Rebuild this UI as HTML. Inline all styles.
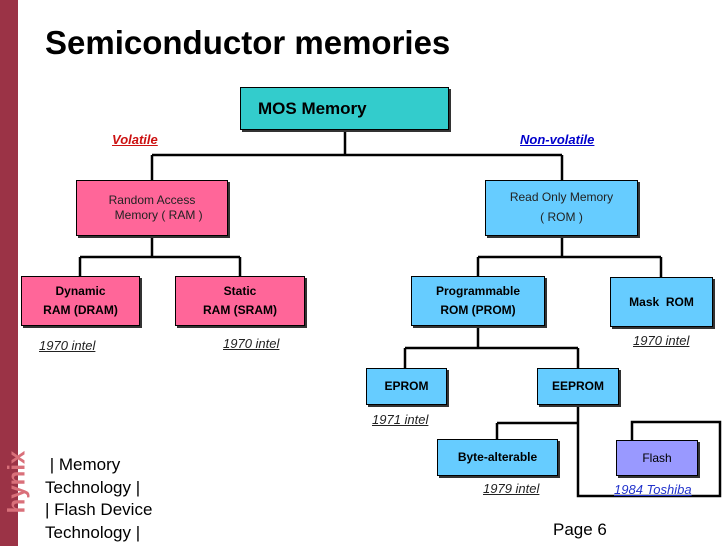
<!DOCTYPE html>
<html><head><style>
body{margin:0;width:728px;height:546px;background:#fff;position:relative;overflow:hidden;font-family:"Liberation Sans",sans-serif}
.b{position:absolute;border:1.5px solid #000;box-shadow:2px 2px 0 #333;box-sizing:border-box;display:flex;align-items:center;justify-content:center;text-align:center;color:#000}
.p{background:#ff6699}.c{background:#66ccff}
.bold{font-weight:bold;font-size:12px;line-height:19px}
.t{position:absolute;white-space:nowrap}
.yr{position:absolute;font-style:italic;text-decoration:underline;font-size:13px;color:#222}
</style></head><body>
<div style="position:absolute;left:0;top:0;width:18px;height:546px;background:#9b3346"></div>
<div class="t" style="left:-14px;top:468px;transform:rotate(-90deg);color:#d9707a;font-weight:bold;font-size:24px;transform-origin:center">hynix</div>
<div class="t" style="left:45px;top:24px;font-size:33px;font-weight:bold">Semiconductor memories</div>
<svg width="728" height="546" style="position:absolute;left:0;top:0" fill="none" stroke="#000" stroke-width="2.5">
<path d="M345 130V155M152 155H562M152 155V180M562 155V180"/>
<path d="M152 236V257M80 257H240M80 257V276M240 257V276"/>
<path d="M562 236V257M478 257H661M478 257V276M661 257V277"/>
<path d="M478 326V348M405 348H578M405 348V368M578 348V368"/>
<path d="M578 405V496H720V422H632V440M497 423H578M497 423V439"/>
</svg>
<div class="b" style="left:240px;top:87px;width:209px;height:43px;background:#33cccc;font-weight:bold;font-size:17px;justify-content:flex-start;padding-left:17px">MOS Memory</div>
<div class="t" style="left:112px;top:132px;color:#cc1111;font-weight:bold;font-style:italic;text-decoration:underline;font-size:13px">Volatile</div>
<div class="t" style="left:520px;top:132px;color:#0000cc;font-weight:bold;font-style:italic;text-decoration:underline;font-size:13px">Non-volatile</div>
<div class="b p" style="left:76px;top:180px;width:152px;height:56px;font-size:12px;line-height:15px;color:#222">Random Access<br>&nbsp;&nbsp;&nbsp;&nbsp;Memory ( RAM )</div>
<div class="b c" style="left:485px;top:180px;width:153px;height:56px;font-size:12px;line-height:20px;color:#222;align-items:flex-start;padding-top:6px">Read Only Memory<br>( ROM )</div>
<div class="b p bold" style="left:21px;top:276px;width:119px;height:50px">Dynamic<br>RAM (DRAM)</div>
<div class="b p bold" style="left:175px;top:276px;width:130px;height:50px">Static<br>RAM (SRAM)</div>
<div class="b c bold" style="left:411px;top:276px;width:134px;height:50px">Programmable<br>ROM (PROM)</div>
<div class="b c bold" style="left:610px;top:277px;width:103px;height:50px">Mask&nbsp; ROM</div>
<div class="yr" style="left:39px;top:338px">1970 intel</div>
<div class="yr" style="left:223px;top:336px">1970 intel</div>
<div class="yr" style="left:633px;top:333px">1970 intel</div>
<div class="b c bold" style="left:366px;top:368px;width:81px;height:37px">EPROM</div>
<div class="b c bold" style="left:537px;top:368px;width:82px;height:37px">EEPROM</div>
<div class="yr" style="left:372px;top:412px">1971 intel</div>
<div class="b c bold" style="left:437px;top:439px;width:121px;height:37px">Byte-alterable</div>
<div class="b" style="left:616px;top:440px;width:82px;height:36px;background:#9999ff;font-size:12px">Flash</div>
<div class="yr" style="left:483px;top:481px">1979 intel</div>
<div class="yr" style="left:614px;top:482px;color:#2233cc">1984 Toshiba</div>
<div class="t" style="left:45px;top:454px;font-size:17px;line-height:22.5px">&nbsp;| Memory<br>Technology |<br>| Flash Device<br>Technology |</div>
<div class="t" style="left:553px;top:520px;font-size:17px">Page 6</div>
</body></html>
